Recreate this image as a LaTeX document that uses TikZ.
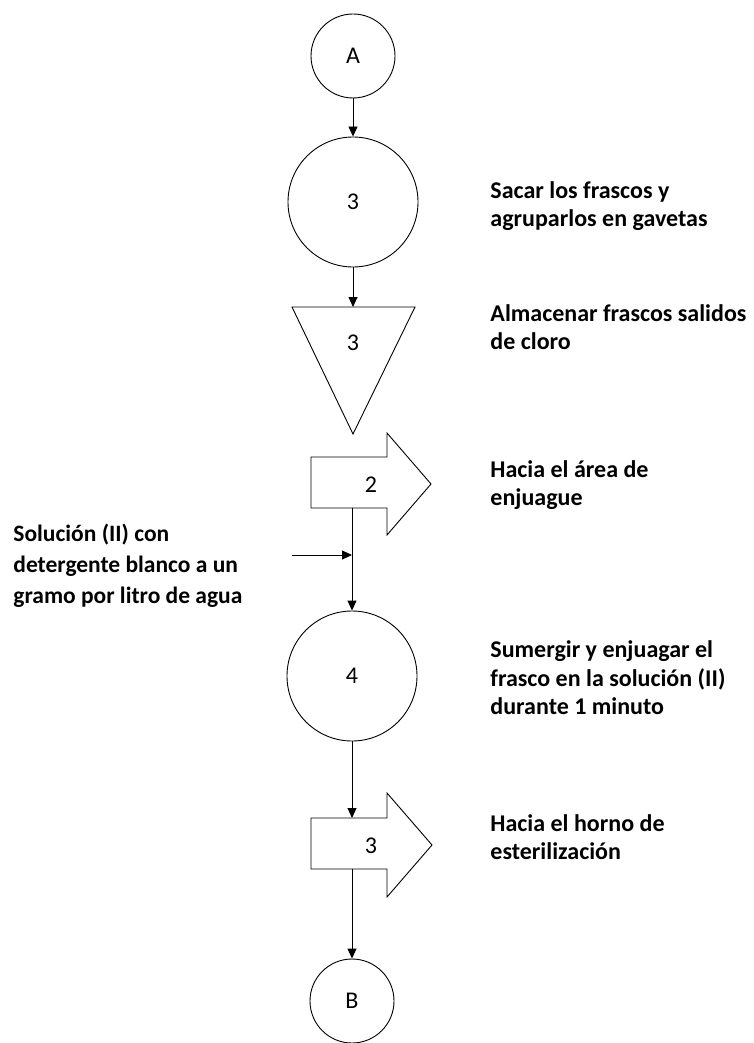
\documentclass[tikz,border=0pt]{standalone}
\usepackage{fontspec}
\setmainfont{Carlito}
\usetikzlibrary{arrows.meta}

\tikzset{
    nota/.style={anchor=west,align=left,inner sep=0pt,font=\bfseries\fontsize{24}{28.5}\selectfont},
    cifra/.style={inner sep=0pt,font=\fontsize{24}{29}\selectfont}
}

\begin{document}
\begin{tikzpicture}[x=1pt,y=-1pt,line width=0.9pt]
        \useasboundingbox (0,0) rectangle (753,1043);
        \begin{scope}[every node/.style={circle,draw,inner sep=0pt,font=\fontsize{24}{29}\selectfont}]
            \node (A) [minimum size=84pt] at (353,56) {A};
            \node (o3) [minimum size=130pt] at (353,202) {3};
            \node (o4) [minimum size=130pt] at (352,676) {4};
            \node (B) [minimum size=84pt] at (352,1001) {B};
        \end{scope}
        % almacenamiento
        \draw (292,307) -- (415,307) -- (353,434) -- cycle;
        \node (al3) [cifra] at (353,343) {3};
        \coordinate (al3top) at (353,307);
        % transportes
        \draw (311,457) -- (387,457) -- (387,433) -- (431,484) -- (387,535) -- (387,508) -- (311,508) -- cycle;
        \node (t2) [cifra] at (371,485) {2};
        \coordinate (t2bot) at (352,508);
        \draw (311,818) -- (387,818) -- (387,793) -- (432,845) -- (387,897) -- (387,869) -- (311,869) -- cycle;
        \node (t3) [cifra] at (371,846) {3};
        \coordinate (t3top) at (352,818);
        \coordinate (t3bot) at (352,869);
        % entrada de la solucion
        \coordinate (ent) at (292,555);
        \coordinate (lado) at (352,555);
        \begin{scope}[every edge/.style={draw,line width=0.9pt,-{Triangle[length=10pt,width=9pt]}}]
            \path
                (A) edge (o3)
                (o3) edge (al3top)
                (t2bot) edge (o4)
                (ent) edge (lado)
                (o4) edge (t3top)
                (t3bot) edge (B);
        \end{scope}
        % textos
        \node (n1) [nota] at (490,206) {Sacar los frascos y\\agruparlos en gavetas};
        \node (n2) [nota] at (490,327) {Almacenar frascos salidos\\de cloro};
        \node (n3) [nota] at (490,485) {Hacia el área de\\enjuague};
        \node (n4) [nota] at (490,678) {Sumergir y enjuagar el\\frasco en la solución (II)\\durante 1 minuto};
        \node (n5) [nota] at (490,837) {Hacia el horno de\\esterilización};
        \node (n6) [nota,font=\bfseries\fontsize{23.5}{31}\selectfont] at (13,566) {Solución (II) con\\detergente blanco a un\\gramo por litro de agua};
    \end{tikzpicture}
\end{document}
